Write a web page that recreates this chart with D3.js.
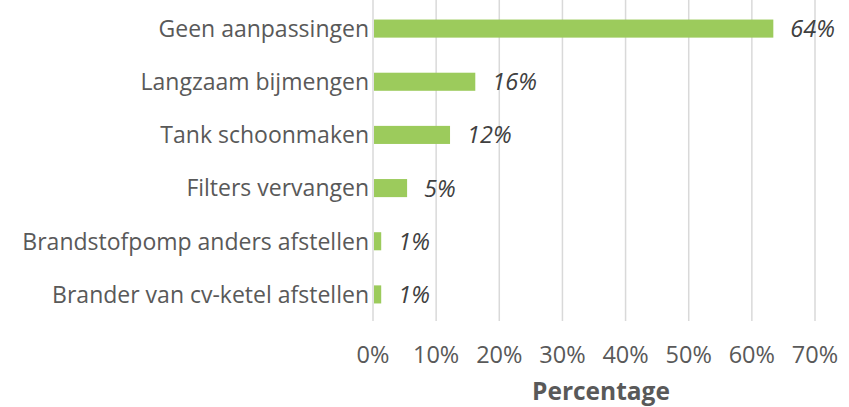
<!DOCTYPE html>
<html>
<head>
<meta charset="utf-8">
<script src="https://cdn.jsdelivr.net/npm/d3@7"></script>
<style>
  body { margin: 0; background: #fff; }
  text { font-family: "Open Sans", "Noto Sans", sans-serif; }
</style>
</head>
<body>
<script>
// data
var categories = ["Geen aanpassingen", "Langzaam bijmengen", "Tank schoonmaken",
                  "Filters vervangen", "Brandstofpomp anders afstellen", "Brander van cv-ketel afstellen"];
var values = [63.4, 16.2, 12.2, 5.4, 1.3, 1.3];
var valueLabels = ["64%", "16%", "12%", "5%", "1%", "1%"];
var ticks = [0, 10, 20, 30, 40, 50, 60, 70];

var width = 849;
var height = 407;
var margins = { left: 373, right: 34, top: 2, bottom: 86 };

var svg = d3.select("body").append("svg")
    .attr("width", width)
    .attr("height", height);

var x = d3.scaleLinear()
    .domain([0, 70])
    .range([margins.left, width - margins.right]);

var y = d3.scaleBand()
    .domain(categories)
    .range([margins.top, height - margins.bottom])
    .paddingInner(0.66)
    .paddingOuter(0.33);

// vertical gridlines
svg.append("g")
    .selectAll("line")
    .data(ticks)
    .enter()
    .append("line")
    .attr("x1", d => x(d))
    .attr("x2", d => x(d))
    .attr("y1", margins.top - 2)
    .attr("y2", height - margins.bottom)
    .attr("stroke", "#d9d9d9")
    .attr("stroke-width", 1.5);

// tick labels
svg.append("g")
    .selectAll("text")
    .data(ticks)
    .enter()
    .append("text")
    .attr("x", d => x(d))
    .attr("y", 363)
    .attr("text-anchor", "middle")
    .attr("font-size", "23.5px")
    .attr("fill", "#595959")
    .text(d => d + "%");

svg.append("text")
    .attr("x", 601)
    .attr("y", 400)
    .attr("text-anchor", "middle")
    .attr("font-size", "24.5px")
    .attr("font-weight", "bold")
    .attr("fill", "#595959")
    .text("Percentage");

// bars
svg.append("g")
    .selectAll("rect")
    .data(categories)
    .enter()
    .append("rect")
    .attr("x", x(0) + 1)
    .attr("y", d => y(d))
    .attr("width", (d, i) => x(values[i]) - x(0) - 1)
    .attr("height", y.bandwidth())
    .attr("fill", "#9ccb5c");

// category labels
svg.append("g")
    .selectAll("text")
    .data(categories)
    .enter()
    .append("text")
    .attr("x", margins.left - 4)
    .attr("y", d => y(d) + y.bandwidth() / 2)
    .attr("dy", "0.36em")
    .attr("text-anchor", "end")
    .attr("font-size", "23px")
    .attr("fill", "#595959")
    .text(d => d);

// value labels
svg.append("g")
    .selectAll("text")
    .data(categories)
    .enter()
    .append("text")
    .attr("x", (d, i) => x(values[i]) + 17)
    .attr("y", d => y(d) + y.bandwidth() / 2)
    .attr("dy", "0.36em")
    .attr("font-size", "23.5px")
    .attr("font-style", "italic")
    .attr("fill", "#404040")
    .text((d, i) => valueLabels[i]);
</script>
</body>
</html>
